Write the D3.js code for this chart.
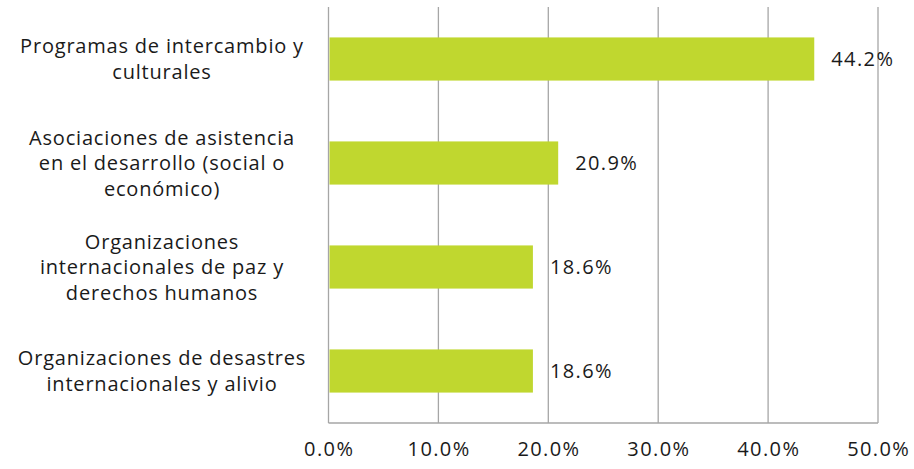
<!DOCTYPE html>
<html><head><meta charset="utf-8">
<script src="https://cdn.jsdelivr.net/npm/d3@7"></script>
<style>body{margin:0;background:#fff}svg{display:block}text{font-family:"Open Sans",Lato,sans-serif;fill:#1a1a1a}</style>
</head><body><svg id="c" width="914" height="469"></svg>
<script>
const categories = [
  ["Programas de intercambio y","culturales"],
  ["Asociaciones de asistencia","en el desarrollo (social o","económico)"],
  ["Organizaciones","internacionales de paz y","derechos humanos"],
  ["Organizaciones de desastres","internacionales y alivio"]
];
const values = [44.2, 20.9, 18.6, 18.6];
const ticks = [0,10,20,30,40,50];

const svg = d3.select("#c");
const m = {l:328.5, r:878, t:7, b:423};
const x = d3.scaleLinear().domain([0,50]).range([m.l,m.r]);
const y = d3.scaleBand().domain(d3.range(categories.length)).range([m.t,m.b]).paddingInner(0.585).paddingOuter(0.2925);

const g = svg.append("g");
g.selectAll("line.grid").data(ticks).join("line")
  .attr("x1",d=>x(d)).attr("x2",d=>x(d)).attr("y1",m.t).attr("y2",m.b)
  .attr("stroke","#a6a6a6").attr("stroke-width",1.3);
g.append("line").attr("x1",m.l).attr("x2",m.r).attr("y1",m.b).attr("y2",m.b).attr("stroke","#a6a6a6").attr("stroke-width",1.3);

g.selectAll("rect").data(values).join("rect")
  .attr("x",x(0)+1).attr("y",(d,i)=>y(i)).attr("width",d=>x(d)-x(0)-1).attr("height",y.bandwidth())
  .attr("fill","#c0d72f");

g.selectAll("text.val").data(values).join("text")
  .attr("x",d=>x(d)+17).attr("y",(d,i)=>y(i)+y.bandwidth()/2).attr("dy","0.35em")
  .style("font-size","20px").style("letter-spacing","1.4px").text(d=>d.toFixed(1)+"%");

g.selectAll("text.tick").data(ticks).join("text")
  .attr("x",d=>x(d)+0.7).attr("y",456).attr("text-anchor","middle")
  .style("font-size","20px").style("letter-spacing","1.4px").text(d=>d.toFixed(1)+"%");

const lh = 25.5;
categories.forEach((lines,i)=>{
  const cy = y(i)+y.bandwidth()/2;
  const t = g.append("text").attr("text-anchor","middle").style("font-size","20px").style("letter-spacing","0.8px");
  lines.forEach((ln,j)=>{
    t.append("tspan").attr("x",162).attr("y",cy+(j-(lines.length-1)/2)*lh).attr("dy","0.35em").text(ln);
  });
});
</script></body></html>
